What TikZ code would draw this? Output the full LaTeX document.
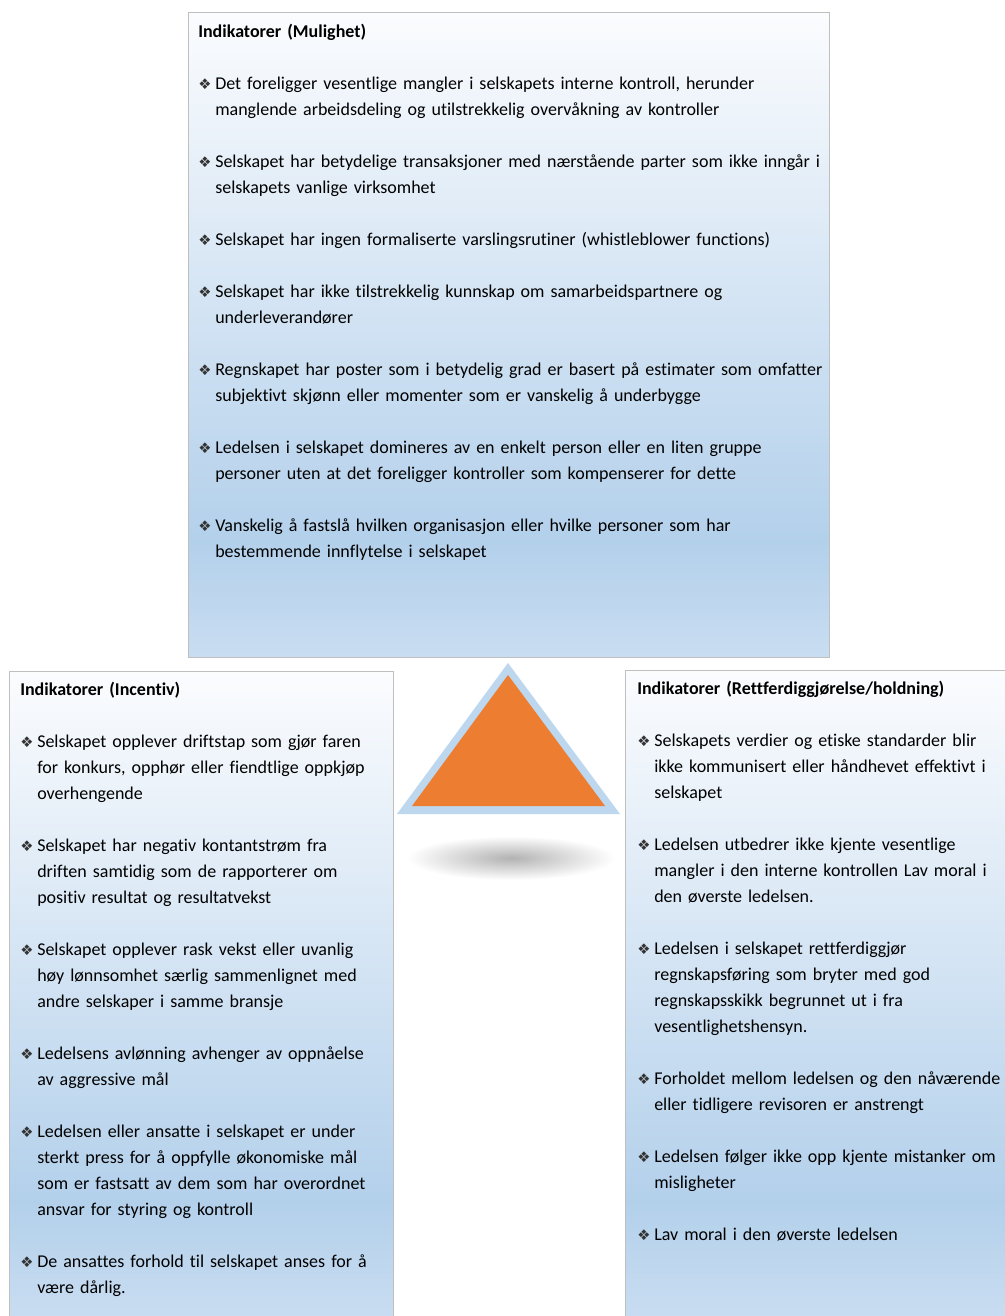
\documentclass[tikz,border=0pt]{standalone}
\usepackage{fontspec}
\setmainfont{Carlito}[Ligatures=CommonOff]
\newfontfamily\symfont{DejaVu Sans}

\definecolor{fadetop}{HTML}{FBFCFE}
\definecolor{fadedeep}{HTML}{B3D0EB}
\definecolor{fadeend}{HTML}{C9DDF1}
\definecolor{boxline}{HTML}{BFBFBF}
\definecolor{triorange}{HTML}{ED7D31}
\definecolor{triedge}{HTML}{BDD7EE}

\pgfdeclareverticalshading{indfade}{100bp}{color(0bp)=(fadeend); color(25bp)=(fadeend); color(34bp)=(fadedeep); color(75bp)=(fadetop); color(100bp)=(fadetop)}

\newcommand{\indlayout}{\fontsize{13.5}{19.5}\selectfont\setlength{\parskip}{19.5pt}\setlength{\parindent}{0pt}\hyphenpenalty=10000\exhyphenpenalty=10000}
\newcommand{\indpunkt}[1]{\hangindent=12.75pt\hangafter=1\noindent\makebox[12.75pt][l]{\symfont\fontsize{11}{11}\selectfont\color{black!80}❖}#1\par}

\tikzset{
    indbox/.style={rectangle,draw=boxline,line width=0.9pt,shade,shading=indfade,inner sep=0pt,anchor=north west},
    indtext/.style={anchor=north west,inner sep=0pt,align=left,font=\indlayout},
    tribase/.style={fill=triedge},
    tritop/.style={fill=triorange},
}

\begin{document}
\begin{tikzpicture}[x=0.75pt,y=-0.75pt]
    \clip (0,0) rectangle (1005,1316);
    \fill[white] (0,0) rectangle (1005,1316);

    % the three boxes
    \node[indbox,minimum width=480.75pt,minimum height=483.75pt] (mulighetbox) at (188,12) {};
    \node[indbox,minimum width=288pt,minimum height=485.25pt] (incentivbox) at (9,671) {};
    \node[indbox,minimum width=288pt,minimum height=486pt] (holdningbox) at (625,670) {};

    \node[indtext,text width=472pt] (mulighet) at (198,23.5) {%
        \textbf{Indikatorer (Mulighet)}\par
        \indpunkt{Det foreligger vesentlige mangler i selskapets interne kontroll, herunder\newline manglende arbeidsdeling og utilstrekkelig overvåkning av kontroller}
        \indpunkt{Selskapet har betydelige transaksjoner med nærstående parter som ikke inngår i\newline selskapets vanlige virksomhet}
        \indpunkt{Selskapet har ingen formaliserte varslingsrutiner (whistleblower functions)}
        \indpunkt{Selskapet har ikke tilstrekkelig kunnskap om samarbeidspartnere og\newline underleverandører}
        \indpunkt{Regnskapet har poster som i betydelig grad er basert på estimater som omfatter\newline subjektivt skjønn eller momenter som er vanskelig å underbygge}
        \indpunkt{Ledelsen i selskapet domineres av en enkelt person eller en liten gruppe\newline personer uten at det foreligger kontroller som kompenserer for dette}
        \indpunkt{Vanskelig å fastslå hvilken organisasjon eller hvilke personer som har\newline bestemmende innflytelse i selskapet}};

    \node[indtext,text width=282pt] (incentiv) at (20,682) {%
        \textbf{Indikatorer (Incentiv)}\par
        \indpunkt{Selskapet opplever driftstap som gjør faren\newline for konkurs, opphør eller fiendtlige oppkjøp\newline overhengende}
        \indpunkt{Selskapet har negativ kontantstrøm fra\newline driften samtidig som de rapporterer om\newline positiv resultat og resultatvekst}
        \indpunkt{Selskapet opplever rask vekst eller uvanlig\newline høy lønnsomhet særlig sammenlignet med\newline andre selskaper i samme bransje}
        \indpunkt{Ledelsens avlønning avhenger av oppnåelse\newline av aggressive mål}
        \indpunkt{Ledelsen eller ansatte i selskapet er under\newline sterkt press for å oppfylle økonomiske mål\newline som er fastsatt av dem som har overordnet\newline ansvar for styring og kontroll}
        \indpunkt{De ansattes forhold til selskapet anses for å\newline være dårlig.}};

    \node[indtext,text width=282pt] (holdning) at (637,681) {%
        \textbf{Indikatorer (Rettferdiggjørelse/holdning)}\par
        \indpunkt{Selskapets verdier og etiske standarder blir\newline ikke kommunisert eller håndhevet effektivt i\newline selskapet}
        \indpunkt{Ledelsen utbedrer ikke kjente vesentlige\newline mangler i den interne kontrollen Lav moral i\newline den øverste ledelsen.}
        \indpunkt{Ledelsen i selskapet rettferdiggjør\newline regnskapsføring som bryter med god\newline regnskapsskikk begrunnet ut i fra\newline vesentlighetshensyn.}
        \indpunkt{Forholdet mellom ledelsen og den nåværende\newline eller tidligere revisoren er anstrengt}
        \indpunkt{Ledelsen følger ikke opp kjente mistanker om\newline misligheter}
        \indpunkt{Lav moral i den øverste ledelsen}};

    % triangle with its shadow
    \shade[inner color=black!30,outer color=white] (511,858) ellipse [x radius=104,y radius=22];
    \fill[tribase] (508,663) -- (397,814) -- (620,814) -- cycle;
    \fill[tritop] (508,675) -- (412,806) -- (605,806) -- cycle;
\end{tikzpicture}
\end{document}
